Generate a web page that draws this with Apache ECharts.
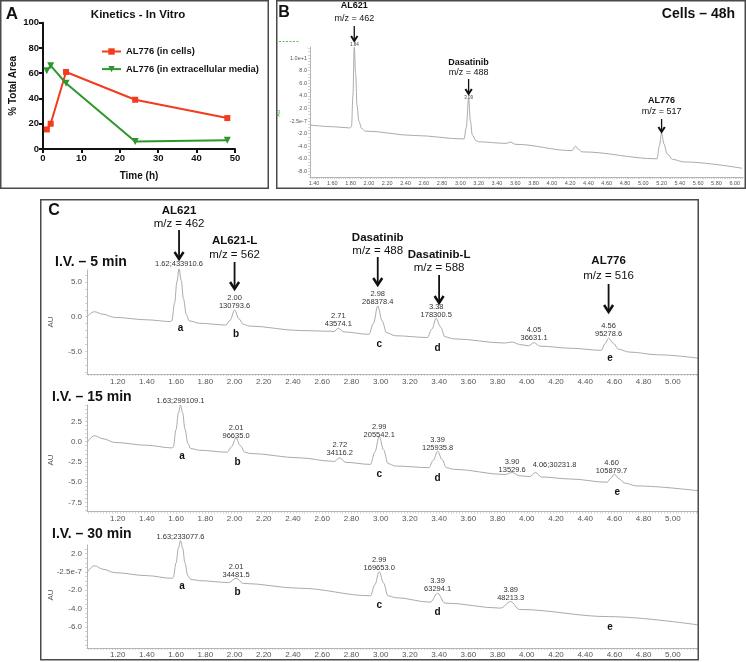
<!DOCTYPE html>
<html><head><meta charset="utf-8">
<script src="https://cdn.jsdelivr.net/npm/echarts@6/dist/echarts.min.js"></script>
<style>html,body{margin:0;padding:0;background:#fff}#c{width:746px;height:662px}</style>
</head><body><div id="c"></div>
<script>
// ---------- Panel A data ----------
const kinTime = [1, 2, 6, 24, 48];
const inCells = [15.5, 20, 61, 39, 24.5];
const extracellular = [62, 66, 52, 6, 7];
const kinSeriesNames = ['AL776 (in cells)', 'AL776 (in extracellular media)'];

// ---------- Panel B trace (time, AU) ----------
const traceB = [[1.356,-0.63],[1.6,-0.9],[1.79,-1.1],[1.81,-0.9],[1.825,4.0],[1.84,11.7],[1.855,7.5],[1.87,2.5],[1.89,0.0],[1.92,-1.2],[1.96,-1.6],
  [2.5,-2.3],[3.04,-2.85],[3.065,-1.0],[3.09,3.6],[3.11,0.0],[3.13,-2.2],[3.17,-3.1],[3.2,-3.3],
  [3.5,-3.55],[3.55,-3.35],[3.6,-3.7],[4.22,-4.7],[4.26,-4.0],[4.29,-4.5],[4.33,-4.9],
  [5.15,-6.0],[5.175,-4.0],[5.20,-1.9],[5.225,-3.6],[5.26,-5.2],[5.32,-6.1],[5.45,-6.5],[6.08,-7.5]];

// ---------- Panel C traces ----------
const traceC5 = [[0.99,0.0],[1.04,0.72],[1.10,0.35],[1.18,-0.1],[1.40,-0.45],[1.56,-0.7],
  [1.57,-0.6],[1.59,2.0],[1.605,5.0],[1.62,6.9],[1.635,5.2],[1.65,2.6],[1.67,0.3],[1.69,-0.6],[1.76,-0.95],
  [1.94,-1.2],[1.97,-0.5],[2.00,0.97],[2.03,-0.3],[2.06,-1.1],[2.1,-1.35],
  [2.45,-2.0],[2.66,-2.1],[2.68,-2.15],[2.71,-1.67],[2.75,-2.2],
  [2.92,-2.55],[2.95,-1.0],[2.98,1.54],[3.01,-0.6],[3.04,-2.3],[3.1,-2.75],
  [3.32,-3.0],[3.35,-1.8],[3.38,-0.24],[3.41,-1.5],[3.44,-2.9],[3.5,-3.2],
  [3.85,-3.8],[3.90,-3.65],[3.95,-4.0],[4.01,-4.2],[4.05,-3.75],[4.09,-4.25],[4.3,-4.55],
  [4.51,-4.85],[4.535,-3.9],[4.56,-3.1],[4.59,-3.8],[4.63,-4.7],[4.7,-5.1],[4.9,-5.5],[5.18,-6.0]];
const traceC15 = [[0.99,-0.1],[1.04,0.73],[1.10,0.35],[1.18,-0.1],[1.40,-0.45],[1.57,-0.77],
  [1.58,-0.7],[1.60,1.5],[1.615,3.5],[1.63,4.5],[1.645,3.5],[1.66,1.6],[1.68,-0.2],[1.70,-0.85],[1.76,-1.06],
  [1.95,-1.3],[1.98,-0.6],[2.01,0.45],[2.04,-0.5],[2.07,-1.3],[2.1,-1.45],
  [2.45,-2.0],[2.66,-2.4],[2.68,-2.45],[2.72,-2.0],[2.76,-2.55],
  [2.93,-2.8],[2.96,-1.3],[2.99,0.65],[3.02,-1.0],[3.05,-2.7],[3.1,-3.0],
  [3.33,-3.2],[3.36,-2.3],[3.39,-1.18],[3.42,-2.2],[3.45,-3.2],[3.5,-3.4],
  [3.85,-4.05],[3.90,-3.8],[3.95,-4.2],[4.02,-4.3],[4.06,-3.8],[4.1,-4.35],[4.3,-4.6],
  [4.55,-5.0],[4.575,-4.5],[4.60,-4.0],[4.63,-4.55],[4.67,-5.1],[4.75,-5.45],[5.18,-6.06]];
const traceC30 = [[0.99,-0.07],[1.04,0.69],[1.10,0.3],[1.18,-0.07],[1.40,-0.4],[1.57,-0.69],
  [1.58,-0.6],[1.60,1.0],[1.615,2.6],[1.63,3.42],[1.645,2.6],[1.66,1.0],[1.68,-0.4],[1.70,-0.8],[1.76,-0.95],
  [1.96,-1.15],[2.01,-0.69],[2.06,-1.25],[2.45,-1.78],
  [2.93,-2.6],[2.96,-1.4],[2.99,0.03],[3.02,-1.2],[3.05,-2.6],[3.1,-2.8],
  [3.34,-3.3],[3.39,-2.33],[3.44,-3.4],[3.82,-3.95],[3.89,-3.24],[3.95,-4.1],[4.56,-4.88],[5.18,-5.8]];

// ---------- Tick labels ----------
const bXLabels = ['1.40','1.60','1.80','2.00','2.20','2.40','2.60','2.80','3.00','3.20','3.40','3.60','3.80','4.00','4.20','4.40','4.60','4.80','5.00','5.20','5.40','5.60','5.80','6.00'];
const bYLabels = ['1.0e+1','8.0','6.0','4.0','2.0','-2.5e-7','-2.0','-4.0','-6.0','-8.0'];
const cXLabels = ['1.20','1.40','1.60','1.80','2.00','2.20','2.40','2.60','2.80','3.00','3.20','3.40','3.60','3.80','4.00','4.20','4.40','4.60','4.80','5.00'];
const c5YLabels = ['5.0','0.0','-5.0'];
const c15YLabels = ['2.5','0.0','-2.5','-5.0','-7.5'];
const c30YLabels = ['2.0','-2.5e-7','-2.0','-4.0','-6.0'];

// ---------- Peak annotations (retention time, text) ----------
const bHeaders = [[1.84,'AL621','m/z = 462','1.84'],[3.09,'Dasatinib','m/z = 488','3.09'],[5.20,'AL776','m/z = 517','']];
const c5Headers = [[1.62,'AL621','m/z = 462'],[2.00,'AL621-L','m/z = 562'],[2.98,'Dasatinib','m/z = 488'],[3.40,'Dasatinib-L','m/z = 588'],[4.56,'AL776','m/z = 516']];
const c5PeakText = [[1.62,'1.62;433910.6'],[2.00,'2.00\n130793.6'],[2.71,'2.71\n43574.1'],[2.98,'2.98\n268378.4'],[3.38,'3.38\n178300.5'],[4.05,'4.05\n36631.1'],[4.56,'4.56\n95278.6']];
const c15PeakText = [[1.63,'1.63;299109.1'],[2.01,'2.01\n96635.0'],[2.72,'2.72\n34116.2'],[2.99,'2.99\n205542.1'],[3.39,'3.39\n125935.8'],[3.90,'3.90\n13529.6'],[4.19,'4.06;30231.8'],[4.58,'4.60\n105879.7']];
const c30PeakText = [[1.63,'1.63;233077.6'],[2.01,'2.01\n34481.5'],[2.99,'2.99\n169653.0'],[3.39,'3.39\n63294.1'],[3.89,'3.89\n48213.3']];
const peakLetters = ['a','b','c','d','e'];
const c5LetterT = [1.63,2.01,2.99,3.39,4.57];
const c15LetterT = [1.64,2.02,2.99,3.39,4.62];
const c30LetterT = [1.64,2.02,2.99,3.39,4.57];

// ---------- Layout (pixel positions of annotation text) ----------
const L = {
  c5PeakY: [264, 302, 320, 298, 311, 334, 330],
  c15PeakY: [401, 432, 449, 431, 444, 466, 465, 467],
  c30PeakY: [537, 571, 564, 585, 594],
  c5LetterY: [328, 334, 344, 348, 358],
  c15LetterY: [456, 462, 474, 478, 492],
  c30LetterY: [586, 592, 605, 612, 627],
  c5Head: [[211,224,230,259],[241,255,262,289],[238,251,257,285],[255,268,275,303],[261,276,284,312]],
  bHead: [[6,19,26,41,45],[63,73,79,94,98],[101,112,119,132,0]]
};

const FONT = '"Liberation Sans", Arial, Helvetica, sans-serif';
const GRAY = '#555';
const AXG = '#b5b5b5';
function range(a, b, s) { const r = []; for (let i = 0; a + i * s <= b + 1e-9; i++) r.push(+(a + i * s).toFixed(4)); return r; }
function lab(labels) { return v => { const m = labels.find(s => Math.abs(Number(s) - v) < 1e-5); return m === undefined ? '' : m; }; }

function chromX(grid, min, max, labels, fs, margin) {
  return { type: 'value', gridIndex: grid, min, max,
    axisLine: { show: true, onZero: false, lineStyle: { color: AXG, width: 1 } },
    axisTick: { show: true, customValues: range(Math.ceil(min / 0.02) * 0.02, max, 0.02), length: 2, lineStyle: { color: AXG, width: 0.6 } },
    axisLabel: { show: true, customValues: labels.map(Number), formatter: lab(labels), fontSize: fs, color: GRAY, margin, fontFamily: FONT },
    splitLine: { show: false } };
}
function chromY(grid, min, max, labels, step, fs, margin) {
  return { type: 'value', gridIndex: grid, min, max,
    axisLine: { show: true, onZero: false, lineStyle: { color: AXG, width: 1 } },
    axisTick: { show: true, customValues: range(Math.ceil(min / step) * step, max, step), length: 2, lineStyle: { color: AXG, width: 0.6 } },
    axisLabel: { show: true, customValues: labels.map(Number), formatter: lab(labels), fontSize: fs, color: GRAY, margin, fontFamily: FONT },
    splitLine: { show: false } };
}
function trace(idx, data) {
  return { type: 'line', xAxisIndex: idx, yAxisIndex: idx, data, showSymbol: false, smooth: 0.35, smoothMonotone: 'x',
    lineStyle: { color: '#a0a0a0', width: 0.9 }, clip: false, silent: true };
}

const RED = '#f23c1c', GREEN = '#2f962f';
const option = {
  animation: false,
  backgroundColor: '#fff',
  grid: [
    { left: 43, top: 22.7, width: 192, height: 126.3 },
    { left: 310, top: 47, width: 433, height: 130 },
    { left: 87, top: 270, width: 611, height: 104 },
    { left: 87, top: 405, width: 611, height: 106.5 },
    { left: 87, top: 545, width: 611, height: 103 }
  ],
  legend: { left: 96, top: 42, orient: 'vertical', itemWidth: 19, itemHeight: 8, itemGap: 8.6, data: kinSeriesNames,
    textStyle: { fontFamily: FONT, fontWeight: 'bold', fontSize: 9.4, color: '#111', padding: [0, 0, 0, 0] } },
  xAxis: [
    { type: 'value', gridIndex: 0, min: 0, max: 50, interval: 10, name: 'Time (h)', nameLocation: 'middle', nameGap: 22,
      nameTextStyle: { fontFamily: FONT, fontWeight: 'bold', fontSize: 10, color: '#111' },
      axisLine: { lineStyle: { color: '#111', width: 2 } }, axisTick: { length: 4, lineStyle: { color: '#111', width: 2 } },
      axisLabel: { fontFamily: FONT, fontWeight: 'bold', fontSize: 9.5, color: '#111', margin: 4 }, splitLine: { show: false } },
    chromX(1, 1.356, 6.09, bXLabels, 5.5, 3),
    chromX(2, 0.99, 5.172, cXLabels, 8, 4),
    chromX(3, 0.99, 5.172, cXLabels, 8, 3),
    chromX(4, 0.99, 5.172, cXLabels, 8, 3)
  ],
  yAxis: [
    { type: 'value', gridIndex: 0, min: 0, max: 100, interval: 20, name: '% Total Area', nameLocation: 'middle', nameGap: 25, nameRotate: 90,
      nameTextStyle: { fontFamily: FONT, fontWeight: 'bold', fontSize: 10, color: '#111' },
      axisLine: { show: true, lineStyle: { color: '#111', width: 2 } }, axisTick: { show: true, length: 4, lineStyle: { color: '#111', width: 2 } },
      axisLabel: { fontFamily: FONT, fontWeight: 'bold', fontSize: 9.5, color: '#111', margin: 4 }, splitLine: { show: false } },
    chromY(1, -8.89, 11.75, bYLabels, 0.5, 5.5, 3),
    chromY(2, -8.27, 6.74, c5YLabels, 1, 8, 5),
    chromY(3, -8.6, 4.51, c15YLabels, 0.5, 8, 5),
    chromY(4, -8.31, 2.95, c30YLabels, 0.5, 8, 5)
  ],
  series: [
    { name: kinSeriesNames[0], type: 'line', xAxisIndex: 0, yAxisIndex: 0, data: kinTime.map((t, i) => [t, inCells[i]]),
      symbol: 'rect', symbolSize: 6, color: RED, lineStyle: { color: RED, width: 2 }, itemStyle: { color: RED } },
    { name: kinSeriesNames[1], type: 'line', xAxisIndex: 0, yAxisIndex: 0, data: kinTime.map((t, i) => [t, extracellular[i]]),
      symbol: 'triangle', symbolRotate: 180, symbolSize: 7, color: GREEN, lineStyle: { color: GREEN, width: 2 }, itemStyle: { color: GREEN } },
    trace(1, traceB),
    trace(2, traceC5),
    trace(3, traceC15),
    trace(4, traceC30)
  ]
};

const chart = echarts.init(document.getElementById('c'), null, { renderer: 'canvas' });
chart.setOption(option);

function X(axis, t) { return chart.convertToPixel({ xAxisIndex: axis }, t); }
function T(x, y, text, o) {
  o = o || {};
  return { type: 'text', x, y, rotation: o.rot || 0, z: 10,
    style: { text, fontFamily: FONT, fontSize: o.size || 8, fontWeight: o.bold ? 'bold' : 'normal', fill: o.color || '#111',
      align: o.align || 'center', verticalAlign: 'middle', lineHeight: o.lh || (o.size || 8) * 1.1 } };
}
function arrow(x, y1, y2, big) {
  const w = big ? 4.5 : 3.2, h = big ? 7 : 5, lw = big ? 1.8 : 1.3;
  return [
    { type: 'line', z: 10, shape: { x1: x, y1: y1, x2: x, y2: y2 - 1 }, style: { stroke: '#111', lineWidth: lw } },
    { type: 'polyline', z: 10, shape: { points: [[x - w, y2 - h], [x, y2], [x + w, y2 - h]] }, style: { stroke: '#111', lineWidth: lw + 0.7, fill: null } }
  ];
}
function box(x, y, w, h) {
  return { type: 'rect', z: 5, shape: { x, y, width: w, height: h }, style: { fill: null, stroke: '#4a4a4a', lineWidth: 1.5 } };
}

const g = [];
// panel borders
g.push(box(0.75, 0.75, 267.5, 187.5), box(276.75, 0.75, 468.5, 187.5), box(40.75, 199.75, 657.5, 460));
// Panel A texts
g.push(T(12, 14, 'A', { size: 17, bold: true }));
g.push(T(138, 15, 'Kinetics - In Vitro', { size: 11.5, bold: true }));
// Panel B texts
g.push(T(284, 13, 'B', { size: 16, bold: true }));
g.push(T(735, 14, 'Cells \u2013 48h', { size: 14, bold: true, align: 'right' }));
g.push(T(279, 113, 'AU', { size: 5, color: '#2a9a2a', rot: Math.PI / 2 }));
g.push({ type: 'line', shape: { x1: 279, y1: 41.5, x2: 299, y2: 41.5 }, style: { stroke: '#3aa03a', lineWidth: 0.8, lineDash: [2, 1.5] } });
bHeaders.forEach((h, i) => {
  const x = X(1, h[0]), p = L.bHead[i];
  g.push(T(x, p[0], h[1], { size: 9, bold: true }));
  g.push(T(x, p[1], h[2], { size: 9 }));
  g.push(...arrow(x, p[2], p[3], false));
  if (h[3]) g.push(T(x, p[4], h[3], { size: 4.5, color: '#444' }));
});
// Panel C texts
g.push(T(54, 211, 'C', { size: 16, bold: true }));
g.push(T(55, 262, 'I.V. \u2013 5 min', { size: 14, bold: true, align: 'left' }));
g.push(T(52, 397, 'I.V. \u2013 15 min', { size: 14, bold: true, align: 'left' }));
g.push(T(52, 534, 'I.V. \u2013 30 min', { size: 14, bold: true, align: 'left' }));
g.push(T(51, 322, 'AU', { size: 8, color: GRAY, rot: Math.PI / 2 }));
g.push(T(51, 460, 'AU', { size: 8, color: GRAY, rot: Math.PI / 2 }));
g.push(T(51, 595, 'AU', { size: 8, color: GRAY, rot: Math.PI / 2 }));
c5Headers.forEach((h, i) => {
  const x = X(2, h[0]), p = L.c5Head[i];
  g.push(T(x, p[0], h[1], { size: 11.5, bold: true }));
  g.push(T(x, p[1], h[2], { size: 11.5 }));
  g.push(...arrow(x, p[2], p[3], true));
});
function peakTexts(axis, list, ys) {
  list.forEach((p, i) => g.push(T(X(axis, p[0]), ys[i], p[1], { size: 7.5, color: '#333', lh: 8.5 })));
}
peakTexts(2, c5PeakText, L.c5PeakY);
peakTexts(3, c15PeakText, L.c15PeakY);
peakTexts(4, c30PeakText, L.c30PeakY);
function letters(axis, ts, ys) {
  ts.forEach((t, i) => g.push(T(X(axis, t), ys[i], peakLetters[i], { size: 10, bold: true })));
}
letters(2, c5LetterT, L.c5LetterY);
letters(3, c15LetterT, L.c15LetterY);
letters(4, c30LetterT, L.c30LetterY);

chart.setOption({ graphic: { elements: g } });
</script>
</body></html>
